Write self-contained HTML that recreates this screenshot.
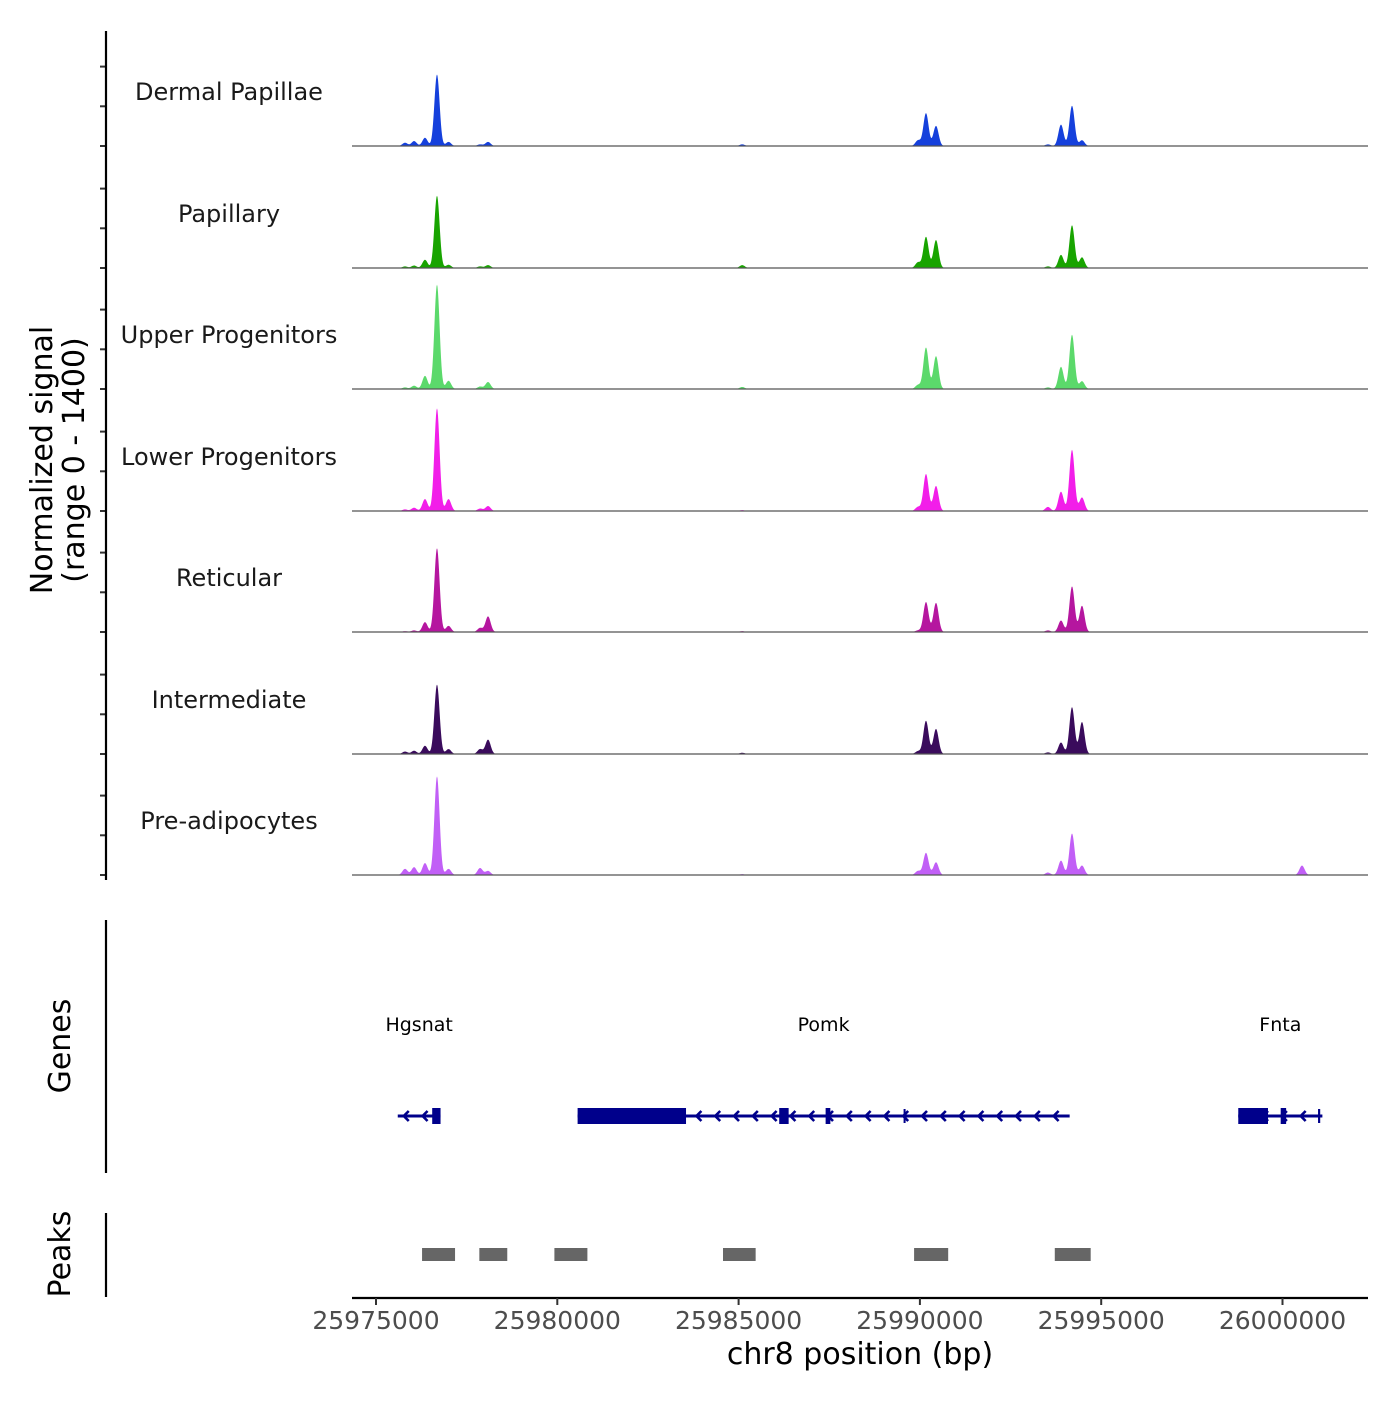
<!DOCTYPE html>
<html><head><meta charset="utf-8"><style>
body{margin:0;background:#fff;}
svg text{font-family:"DejaVu Sans","Liberation Sans",sans-serif;}
</style></head><body>
<svg id="chart" width="1400" height="1400" xmlns="http://www.w3.org/2000/svg">
</svg>
<script>
// ---- data ----
const trackNames = ["Dermal Papillae","Papillary","Upper Progenitors","Lower Progenitors","Reticular","Intermediate","Pre-adipocytes"];
const trackColors = ["#1540dc","#18a400","#5bd96b","#f21ee9","#b5169f","#3a0b5c","#c15ff6"];
const peakPositions = [25975800,25976050,25976351,25976682,25977000,25977870,25978090,25985100,25989948,25990168,25990444,25993530,25993891,25994195,25994470,26000538];
const sigDermal   = [40,60,100,870,50,20,50,20,70,400,245,20,260,490,70,0];
const sigPapillary= [20,30,100,880,40,20,35,35,70,380,340,20,160,520,130,0];
const sigUpper    = [20,40,160,1270,100,30,85,25,50,505,400,20,270,660,95,0];
const sigLower    = [20,40,145,1250,145,30,60,10,50,450,305,50,235,745,165,0];
const sigReticular= [10,20,120,1020,75,50,190,10,20,365,355,20,140,555,320,0];
const sigInterm   = [30,40,100,845,60,60,175,15,35,405,305,20,140,570,390,0];
const sigPreadip  = [75,95,145,1200,75,85,50,10,50,270,155,30,175,505,115,115];
const signals = [sigDermal,sigPapillary,sigUpper,sigLower,sigReticular,sigInterm,sigPreadip];
const xTicks = [25975000,25980000,25985000,25990000,25995000,26000000];
const peakStarts = [25976270,25977850,25979920,25984570,25989840,25993720];
const peakEnds   = [25977180,25978620,25980830,25985470,25990780,25994710];
const geneNames = ["Hgsnat","Pomk","Fnta"];
const geneStarts = [25975600,25980560,25998780];
const geneEnds   = [25976780,25994130,26001100];
const exonStarts = [25976550,25980560,25986120,25987400,25989550,25998780,25999950,26000980];
const exonEnds   = [25976780,25983550,25986380,25987530,25989590,25999600,26000100,26001040];
const exonTall   = [1,1,1,1,0,1,1,0];

// ---- scales ----
const X0=25975000, PX0=376, K=181.3/5000;
const xs = bp => PX0 + (bp-X0)*K;
const baselines = [146,268,389,511,632,754,875];
const ys = (v,b) => b - v/1400*115;
const NS="http://www.w3.org/2000/svg";
const svg=document.getElementById('chart');
function mk(tag,attrs,parent){const e=document.createElementNS(NS,tag);for(const k in attrs)e.setAttribute(k,attrs[k]);(parent||svg).appendChild(e);return e;}

// tracks
trackNames.forEach((name,ti)=>{
  const b=baselines[ti];
  const g=mk('g',{});
  
  
  let d='M352,'+b;
  for(let px=352;px<=1368;px+=0.5){
    let v=0;
    peakPositions.forEach((p,i)=>{const dx=px-xs(p);const s=2.6;v+=signals[ti][i]*Math.exp(-dx*dx/(2*s*s));});
    d+=' L'+px+','+ys(v,b).toFixed(2);
  }
  d+=' L1368,'+b+' Z';
  const area=mk('path',{d:d,fill:trackColors[ti],stroke:'none'},g);
  
  
  const bl=mk('line',{x1:352,x2:1368,y1:b,y2:b,stroke:'#555','stroke-width':1.2},g);
  
  
  const t=mk('text',{x:229,y:b-46,'text-anchor':'middle','font-size':24,fill:'#1a1a1a'},g);
  t.textContent=name;
  
  
  for(let k=0;k<3;k++){
    const tk=mk('line',{x1:100,x2:106,y1:b-k*39.7,y2:b-k*39.7,stroke:'#333','stroke-width':2});
    
    
  }
});
let ya=mk('line',{x1:106,x2:106,y1:31,y2:880,stroke:'#000','stroke-width':2.2});


let yt=mk('text',{transform:'translate(52,460) rotate(-90)','text-anchor':'middle','font-size':30,fill:'#000'});


mk('tspan',{x:0,dy:0},yt).textContent='Normalized signal';
mk('tspan',{x:0,dy:32},yt).textContent='(range 0 - 1400)';

// genes
let ga=mk('line',{x1:106,x2:106,y1:920,y2:1173,stroke:'#000','stroke-width':2.2});


let gt=mk('text',{transform:'translate(70,1046) rotate(-90)','text-anchor':'middle','font-size':30,fill:'#000'});
gt.textContent='Genes';


const GY=1116, GC='#00008b';
geneNames.forEach((n,i)=>{
  const x1=xs(geneStarts[i]),x2=xs(geneEnds[i]);
  const g=mk('g',{});
  
  
  mk('line',{x1:x1,x2:x2,y1:GY,y2:GY,stroke:GC,'stroke-width':3},g);
  for(let ax=x1+6;ax<x2-4;ax+=18.8){
    mk('polyline',{points:(ax+5)+','+(GY-5)+' '+ax+','+GY+' '+(ax+5)+','+(GY+5),fill:'none',stroke:GC,'stroke-width':2.6},g);
  }
  const lb=mk('text',{x:(x1+x2)/2,y:1031,'text-anchor':'middle','font-size':19,fill:'#000'},g);
  lb.textContent=n;
  
  
});
exonStarts.forEach((s,i)=>{
  const x1=xs(s),x2=xs(exonEnds[i]);const h=exonTall[i]?16:14;
  const r=mk('rect',{x:x1,y:GY-h/2,width:Math.max(2,x2-x1),height:h,fill:GC});
  
  
});

// peaks
let pa=mk('line',{x1:106,x2:106,y1:1213,y2:1297,stroke:'#000','stroke-width':2.2});


let pt=mk('text',{transform:'translate(70,1254) rotate(-90)','text-anchor':'middle','font-size':30,fill:'#000'});
pt.textContent='Peaks';


peakStarts.forEach((s,i)=>{
  const r=mk('rect',{x:xs(s),y:1248,width:xs(peakEnds[i])-xs(s),height:13,fill:'#666'});
  
  
});

// x axis
let xa=mk('line',{x1:352,x2:1368,y1:1298,y2:1298,stroke:'#000','stroke-width':2.2});


xTicks.forEach(t=>{
  const x=xs(t);
  const tk=mk('line',{x1:x,x2:x,y1:1298,y2:1305,stroke:'#333','stroke-width':2});
  
  
  const l=mk('text',{x:x,y:1329,'text-anchor':'middle','font-size':25,fill:'#4d4d4d'});
  l.textContent=String(t);
  
  
});
let xt=mk('text',{x:860,y:1364,'text-anchor':'middle','font-size':30,fill:'#000'});
xt.textContent='chr8 position (bp)';


</script>
</body></html>
